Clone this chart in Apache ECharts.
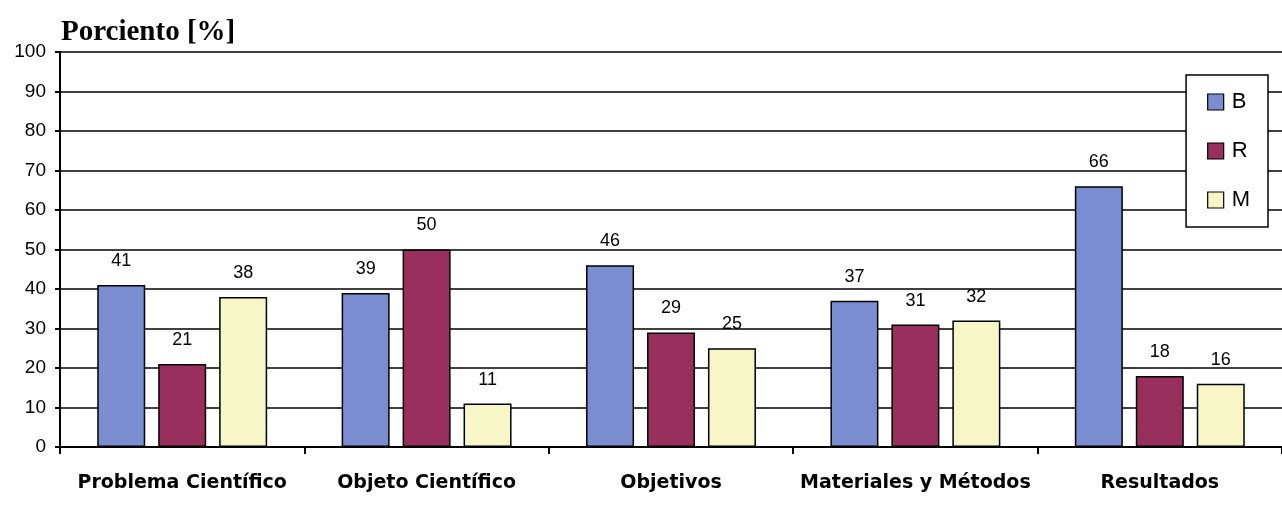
<!DOCTYPE html>
<html>
<head>
<meta charset="utf-8">
<script src="https://cdn.jsdelivr.net/npm/echarts@6/dist/echarts.min.js"></script>
<style>
  html, body { margin: 0; padding: 0; background: #fff; }
  #chart { width: 1282px; height: 507px; }
</style>
</head>
<body>
<div id="chart"></div>
<script>
// datos
const categorias = ['Problema Científico', 'Objeto Científico', 'Objetivos', 'Materiales y Métodos', 'Resultados']
const valoresB = [41, 39, 46, 37, 66]
const valoresR = [21, 50, 29, 31, 18]
const valoresM = [38, 11, 25, 32, 16]
const etiquetasY = [0, 10, 20, 30, 40, 50, 60, 70, 80, 90, 100]

const myChart = echarts.init(document.getElementById('chart'))

function serie (name, data, color) {
  return {
    name: name,
    type: 'bar',
    data: data,
    barWidth: 48,
    barGap: '27%',
    itemStyle: { color: color, borderColor: '#000', borderWidth: 1.5 },
    label: {
      show: true,
      position: 'top',
      distance: 15,
      color: '#000',
      fontFamily: 'Liberation Sans, Arial',
      fontSize: 18
    }
  }
}

const option = {
  animation: false,
  backgroundColor: '#fff',
  title: {
    text: 'Porciento [%]',
    left: 56,
    top: 13,
    textStyle: { fontFamily: 'Liberation Serif, Times New Roman', fontWeight: 'bold', fontSize: 29, color: '#000' }
  },
  legend: {
    orient: 'vertical',
    right: 14,
    top: 75,
    padding: [16, 18, 16, 21],
    itemGap: 27,
    itemWidth: 16,
    itemHeight: 16,
    borderColor: '#000',
    borderWidth: 1.5,
    backgroundColor: '#fff',
    icon: 'rect',
    itemStyle: { borderColor: '#000', borderWidth: 1.2 },
    textStyle: { fontFamily: 'Liberation Sans, Arial', fontSize: 22, color: '#000', padding: [0, 0, 0, 3] },
    data: ['B', 'R', 'M']
  },
  grid: { left: 60, right: 0, top: 52, bottom: 60 },
  xAxis: {
    type: 'category',
    data: categorias,
    axisLine: { lineStyle: { color: '#000', width: 2 } },
    axisTick: { show: true, interval: 0, length: 7, lineStyle: { color: '#000', width: 2 } },
    axisLabel: {
      interval: 0,
      margin: 27,
      color: '#000',
      fontFamily: 'DejaVu Sans, Liberation Sans, Arial',
      fontWeight: 'bold',
      fontSize: 19
    }
  },
  yAxis: {
    type: 'value',
    min: etiquetasY[0],
    max: etiquetasY[etiquetasY.length - 1],
    interval: 10,
    axisLine: { show: true, lineStyle: { color: '#000', width: 2 } },
    axisTick: { show: true, length: 5, lineStyle: { color: '#000', width: 2 } },
    axisLabel: {
      margin: 14,
      color: '#000',
      fontFamily: 'Liberation Sans, Arial',
      fontSize: 19
    },
    splitLine: { lineStyle: { color: '#000', width: 1.5 } }
  },
  series: [
    serie('B', valoresB, '#7a8dd0'),
    serie('R', valoresR, '#982f5d'),
    serie('M', valoresM, '#f7f6c6')
  ]
}

myChart.setOption(option)
</script>
</body>
</html>
